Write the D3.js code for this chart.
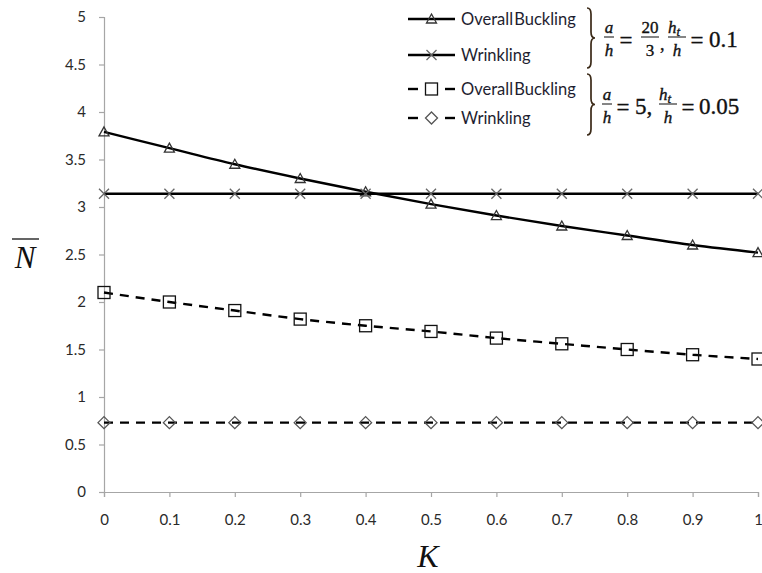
<!DOCTYPE html>
<html>
<head>
<meta charset="utf-8">
<script src="https://cdn.jsdelivr.net/npm/d3@7"></script>
<style>
  body { margin: 0; background: #fff; }
  svg { display: block; }
  .tick text { font-family: Lato, 'Open Sans', sans-serif; font-size: 15px; fill: #2a2a2a; }
</style>
</head>
<body>
<main></main>
<script>
// values
const kValues = [0, 0.1, 0.2, 0.3, 0.4, 0.5, 0.6, 0.7, 0.8, 0.9, 1]
const buckling1 = [3.79, 3.62, 3.45, 3.30, 3.16, 3.03, 2.91, 2.80, 2.70, 2.60, 2.52]
const wrinkling1 = [3.14, 3.14, 3.14, 3.14, 3.14, 3.14, 3.14, 3.14, 3.14, 3.14, 3.14]
const buckling2 = [2.10, 2.00, 1.91, 1.82, 1.75, 1.69, 1.62, 1.56, 1.50, 1.445, 1.40]
const wrinkling2 = [0.73, 0.73, 0.73, 0.73, 0.73, 0.73, 0.73, 0.73, 0.73, 0.73, 0.73]
const xTicks = [0, 0.1, 0.2, 0.3, 0.4, 0.5, 0.6, 0.7, 0.8, 0.9, 1]
const yTicks = [0, 0.5, 1, 1.5, 2, 2.5, 3, 3.5, 4, 4.5, 5]
const legendLabels = ['Overall Buckling', 'Wrinkling', 'Overall Buckling', 'Wrinkling']

const width = 762
const height = 573
const plot = { left: 104, right: 758, top: 17, bottom: 492 }

const svg = d3.select('main')
  .append('svg')
  .attr('width', width)
  .attr('height', height)

const x = d3.scaleLinear().domain([0, 1]).range([plot.left, plot.right])
const y = d3.scaleLinear().domain([0, 5]).range([plot.bottom, plot.top])

// axes
const xAxis = svg.append('g')
  .attr('transform', `translate(0,${plot.bottom})`)
  .call(d3.axisBottom(x).tickValues(xTicks).tickSize(5).tickPadding(17).tickFormat(d3.format('')))
const yAxis = svg.append('g')
  .attr('transform', `translate(${plot.left},0)`)
  .call(d3.axisLeft(y).tickValues(yTicks).tickSize(5).tickPadding(13).tickFormat(d3.format('')))
;[xAxis, yAxis].forEach(a => {
  a.select('.domain').attr('stroke', '#a6a6a6').attr('stroke-width', 1.2)
  a.selectAll('.tick line').attr('stroke', '#a6a6a6').attr('stroke-width', 1.2)
})

// axis titles
svg.append('text')
  .attr('x', 428)
  .attr('y', 567)
  .attr('text-anchor', 'middle')
  .attr('font-family', "'Liberation Serif', serif")
  .attr('font-style', 'italic')
  .attr('font-size', 32)
  .attr('fill', '#111')
  .text('K')
svg.append('text')
  .attr('x', 25)
  .attr('y', 268)
  .attr('text-anchor', 'middle')
  .attr('font-family', "'Liberation Serif', serif")
  .attr('font-style', 'italic')
  .attr('font-size', 31)
  .attr('fill', '#111')
  .text('N')
svg.append('line')
  .attr('x1', 12).attr('x2', 39)
  .attr('y1', 239).attr('y2', 239)
  .attr('stroke', '#111').attr('stroke-width', 1.3)

// series
const series = [
  { values: buckling1, dash: null, marker: 'triangle' },
  { values: wrinkling1, dash: null, marker: 'cross' },
  { values: buckling2, dash: '9,7', marker: 'square' },
  { values: wrinkling2, dash: '9,7', marker: 'diamond' }
]

const line = d3.line()
  .x(d => x(d[0]))
  .y(d => y(d[1]))
  .curve(d3.curveMonotoneX)

function drawMarker (g, type, cx, cy) {
  if (type === 'triangle') {
    g.append('path')
      .attr('d', `M${cx},${cy - 5}L${cx + 5},${cy + 4}L${cx - 5},${cy + 4}Z`)
      .attr('fill', 'none').attr('stroke', '#333').attr('stroke-width', 1.3)
  } else if (type === 'cross') {
    g.append('path')
      .attr('d', `M${cx - 5},${cy - 5}L${cx + 5},${cy + 5}M${cx + 5},${cy - 5}L${cx - 5},${cy + 5}`)
      .attr('fill', 'none').attr('stroke', '#666').attr('stroke-width', 1.3)
  } else if (type === 'square') {
    g.append('rect')
      .attr('x', cx - 6).attr('y', cy - 6).attr('width', 12).attr('height', 12)
      .attr('fill', 'none').attr('stroke', '#111').attr('stroke-width', 1.3)
  } else if (type === 'diamond') {
    g.append('path')
      .attr('d', `M${cx},${cy - 6}L${cx + 6},${cy}L${cx},${cy + 6}L${cx - 6},${cy}Z`)
      .attr('fill', 'none').attr('stroke', '#555').attr('stroke-width', 1.3)
  }
}

series.forEach(s => {
  const pts = kValues.map((k, i) => [k, s.values[i]])
  svg.append('path')
    .attr('d', line(pts))
    .attr('fill', 'none')
    .attr('stroke', '#000')
    .attr('stroke-width', 2.4)
    .attr('stroke-dasharray', s.dash)
  const mg = svg.append('g')
  pts.forEach(p => drawMarker(mg, s.marker, x(p[0]), y(p[1])))
})

// legend
const legendRows = [19, 55, 89, 118]
const legend = svg.append('g')
legendRows.forEach((ly, i) => {
  const s = series[i]
  if (s.dash) {
    legend.append('line').attr('x1', 408).attr('x2', 418).attr('y1', ly).attr('y2', ly)
      .attr('stroke', '#000').attr('stroke-width', 2.4)
    legend.append('line').attr('x1', 445).attr('x2', 455).attr('y1', ly).attr('y2', ly)
      .attr('stroke', '#000').attr('stroke-width', 2.4)
  } else {
    legend.append('line').attr('x1', 408).attr('x2', 455).attr('y1', ly).attr('y2', ly)
      .attr('stroke', '#000').attr('stroke-width', 2.4)
  }
  drawMarker(legend, s.marker, 431.5, ly)
  legend.append('text')
    .attr('x', 461)
    .attr('y', ly + 6)
    .attr('font-family', 'Lato, sans-serif')
    .attr('font-size', 16.5)
    .attr('word-spacing', -3)
    .attr('fill', '#1e1e30')
    .text(legendLabels[i])
})

// braces
function brace (xb, y0, y1) {
  const w = 4
  const r = 6
  const ym = (y0 + y1) / 2
  return `M${xb},${y0}Q${xb + w},${y0} ${xb + w},${y0 + r}L${xb + w},${ym - r}Q${xb + w},${ym} ${xb + 2 * w},${ym}` +
    `Q${xb + w},${ym} ${xb + w},${ym + r}L${xb + w},${y1 - r}Q${xb + w},${y1} ${xb},${y1}`
}
svg.append('path').attr('d', brace(587, 8, 68))
  .attr('fill', 'none').attr('stroke', '#3b2a18').attr('stroke-width', 1.7)
svg.append('path').attr('d', brace(587, 74, 135))
  .attr('fill', 'none').attr('stroke', '#3b2a18').attr('stroke-width', 1.7)

// formulas
const math = svg.append('g')
  .attr('font-family', "'Liberation Serif', serif")
  .attr('fill', '#111')
  .attr('stroke', '#111')
  .attr('stroke-width', 0.35)

function txt (g, tx, ty, s, size, italic, anchor) {
  return g.append('text')
    .attr('x', tx).attr('y', ty)
    .attr('font-size', size)
    .attr('font-style', italic ? 'italic' : 'normal')
    .attr('text-anchor', anchor || 'start')
    .text(s)
}
function frac (g, cx, yBar, half, num, den, italicNum, italicDen, sub) {
  g.append('line').attr('x1', cx - half).attr('x2', cx + half)
    .attr('y1', yBar).attr('y2', yBar).attr('stroke', '#333').attr('stroke-width', 1.2)
  const t = txt(g, cx - (sub ? 3 : 0), yBar - 4, num, 17, italicNum, 'middle')
  if (sub) {
    t.append('tspan').attr('font-size', 13).attr('dy', 3).text(sub)
  }
  txt(g, cx, yBar + 19, den, 17, italicDen, 'middle')
}

// a/h = 20/3, ht/h = 0.1
frac(math, 609, 37, 5, 'a', 'h', true, true)
txt(math, 626, 48, '=', 23, false, 'middle')
frac(math, 650, 37, 9, '20', '3', false, false)
txt(math, 660, 50, ',', 18, false, 'start')
frac(math, 677, 37, 9, 'h', 'h', true, true, 't')
txt(math, 697, 48, '=', 23, false, 'middle')
txt(math, 709, 47, '0.1', 23, false, 'start')

// a/h = 5, ht/h = 0.05
frac(math, 607, 104, 5, 'a', 'h', true, true)
txt(math, 623, 115, '=', 23, false, 'middle')
txt(math, 635, 114, '5,', 23, false, 'start')
frac(math, 668, 104, 9, 'h', 'h', true, true, 't')
txt(math, 688, 115, '=', 23, false, 'middle')
txt(math, 699, 114, '0.05', 23, false, 'start')
</script>
</body>
</html>
